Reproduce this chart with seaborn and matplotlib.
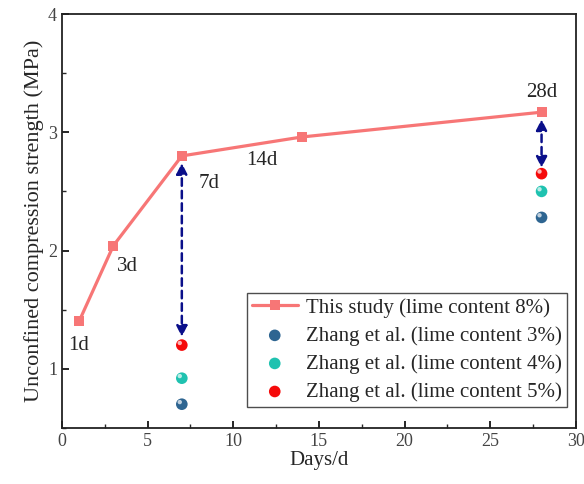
import numpy as np
import pandas as pd
import matplotlib
matplotlib.use("Agg")
import matplotlib.pyplot as plt
from matplotlib.ticker import MultipleLocator
import seaborn as sns

# 数据
days = [1, 3, 7, 14, 28]
ucs_this = [1.40, 2.04, 2.80, 2.96, 3.17]
day_labels = ["1d", "3d", "7d", "14d", "28d"]

zhang_days = [7, 28]
zhang_3 = [0.70, 2.28]
zhang_4 = [0.92, 2.50]
zhang_5 = [1.20, 2.65]

sns.set_theme(style="ticks")
plt.rcParams["font.family"] = ["Liberation Serif", "DejaVu Serif"]
plt.rcParams["xtick.direction"] = "in"
plt.rcParams["ytick.direction"] = "in"

fig = plt.figure(figsize=(5.84, 4.84), dpi=100)
ax = fig.add_axes([0.106, 0.116, 0.880, 0.855])

df = pd.DataFrame({"day": days, "ucs": ucs_this})
sns.lineplot(data=df, x="day", y="ucs", ax=ax, color="#f77676", lw=2.3,
             marker="s", markersize=7, markeredgewidth=0,
             label="This study (lime content 8%)")

# Zhang 数据，球形效果
zh = [(zhang_3, "#2e6591", "Zhang et al. (lime content 3%)"),
      (zhang_4, "#1fc2b0", "Zhang et al. (lime content 4%)"),
      (zhang_5, "#f50a0a", "Zhang et al. (lime content 5%)")]
for vals, c, lab in zh:
    sns.scatterplot(x=zhang_days, y=vals, ax=ax, color=c, s=70,
                    edgecolor="none", label=lab, zorder=3)
    ax.scatter(np.array(zhang_days) - 0.12, np.array(vals) + 0.018, s=10,
               color="white", alpha=0.7, edgecolor="none", zorder=4)

# 双向箭头
arrow_kw = dict(arrowstyle="<|-|>", color="#0a0f8a", lw=1.8, ls=(0, (3, 2)),
                mutation_scale=16, shrinkA=0, shrinkB=0)
ax.annotate("", xy=(7, 1.27), xytext=(7, 2.74), arrowprops=arrow_kw)
ax.annotate("", xy=(28, 2.70), xytext=(28, 3.11), arrowprops=arrow_kw)

# 标注天数
offsets = [(0, -17), (10, -15), (20, -20), (-29, -17), (0, 14)]
for d, v, t, off in zip(days, ucs_this, day_labels, offsets):
    ax.annotate(t, (d, v), xytext=off, textcoords="offset points",
                ha="center", va="center", fontsize=15)

ax.set_xlim(0, 30)
ax.set_ylim(0.5, 4)
ax.xaxis.set_major_locator(MultipleLocator(5))
ax.xaxis.set_minor_locator(MultipleLocator(2.5))
ax.yaxis.set_major_locator(MultipleLocator(1))
ax.yaxis.set_minor_locator(MultipleLocator(0.5))
ax.tick_params(which="major", length=5, width=1.2, labelsize=13, colors="black",
               labelcolor="#444444")
ax.tick_params(which="minor", length=3, width=1.0)
ax.tick_params(top=False, right=False, which="both")
for s in ax.spines.values():
    s.set_linewidth(1.3)
    s.set_color("#222222")

ax.set_xlabel("Days/d", fontsize=15, labelpad=1)
ax.set_ylabel("Unconfined compression strength (MPa)", fontsize=16, labelpad=3)

leg = ax.legend(loc="lower right", bbox_to_anchor=(0.983, 0.05), fontsize=15,
                frameon=True, fancybox=False, edgecolor="#222222",
                handlelength=2.2, borderpad=0.25, labelspacing=0.4,
                handletextpad=0.4, borderaxespad=0)
leg.get_frame().set_linewidth(1.0)

fig.savefig("out.png", dpi=100)
